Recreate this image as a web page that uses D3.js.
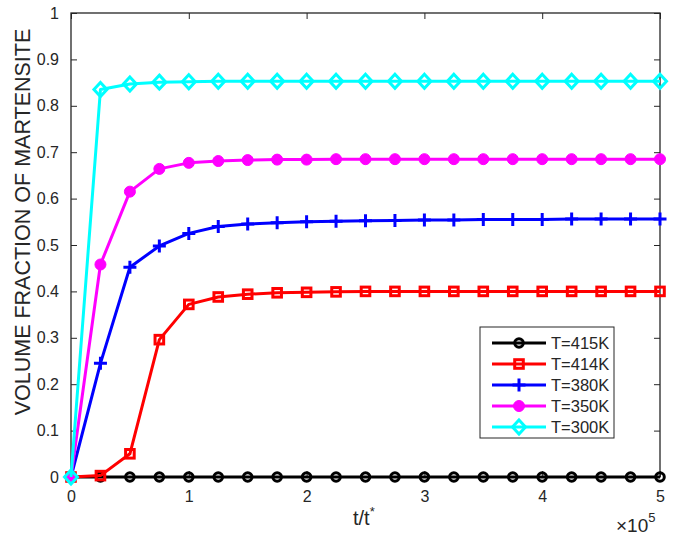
<!DOCTYPE html>
<html>
<head>
<meta charset="utf-8">
<script src="https://cdn.jsdelivr.net/npm/d3@7"></script>
<style>
  body { margin: 0; background: #fff; }
  text { font-family: "Liberation Sans", Arial, sans-serif; fill: #262626; }
</style>
</head>
<body>
<div id="chart"></div>
<script>
// time samples (in units of 1e5 t*)
var times = [0, 0.25, 0.5, 0.75, 1, 1.25, 1.5, 1.75, 2, 2.25, 2.5, 2.75, 3, 3.25, 3.5, 3.75, 4, 4.25, 4.5, 4.75, 5];

var t415 = [0, 0, 0, 0, 0, 0, 0, 0, 0, 0, 0, 0, 0, 0, 0, 0, 0, 0, 0, 0, 0];
var t414 = [0, 0.003, 0.05, 0.296, 0.372, 0.388, 0.394, 0.397, 0.398, 0.399, 0.4, 0.4, 0.4, 0.4, 0.4, 0.4, 0.4, 0.4, 0.4, 0.4, 0.4];
var t380 = [0, 0.245, 0.452, 0.498, 0.525, 0.54, 0.545, 0.548, 0.55, 0.551, 0.552, 0.553, 0.554, 0.554, 0.555, 0.555, 0.555, 0.556, 0.556, 0.556, 0.556];
var t350 = [0, 0.458, 0.615, 0.664, 0.677, 0.681, 0.683, 0.684, 0.684, 0.685, 0.685, 0.685, 0.685, 0.685, 0.685, 0.685, 0.685, 0.685, 0.685, 0.685, 0.685];
var t300 = [0, 0.835, 0.847, 0.851, 0.852, 0.853, 0.853, 0.853, 0.853, 0.853, 0.853, 0.853, 0.853, 0.853, 0.853, 0.853, 0.853, 0.853, 0.853, 0.853, 0.853];

var seriesNames = ["T=415K", "T=414K", "T=380K", "T=350K", "T=300K"];
var seriesColors = ["#000000", "#ff0000", "#0000ff", "#ff00ff", "#00ffff"];
var seriesMarkers = ["circle", "square", "plus", "dot", "diamond"];
var seriesValues = [t415, t414, t380, t350, t300];

var xTicks = [0, 1, 2, 3, 4, 5];
var yTicks = [0, 0.1, 0.2, 0.3, 0.4, 0.5, 0.6, 0.7, 0.8, 0.9, 1];

var W = 674, H = 537;
var margin = { top: 13, right: 14, bottom: 60, left: 71 },
  width = W - margin.left - margin.right,
  height = H - margin.top - margin.bottom;

var x = d3.scaleLinear().domain([0, 5]).range([0, width]);
var y = d3.scaleLinear().domain([0, 1]).range([height, 0]);

var svg = d3.select("#chart").append("svg")
  .attr("width", W)
  .attr("height", H)
  .append("g")
  .attr("transform", "translate(" + margin.left + "," + margin.top + ")");

var axisColor = "#262626";

// axes (ticks inside, box on)
function styleAxis(g) {
  g.select(".domain").remove();
  g.selectAll("line").attr("stroke", axisColor).attr("stroke-width", 1);
  g.selectAll("text").style("font-size", "16px").attr("fill", axisColor);
}

svg.append("g")
  .attr("transform", "translate(0," + height + ")")
  .call(d3.axisBottom(x).tickValues(xTicks).tickSize(-6).tickPadding(14).tickFormat(d3.format("d")))
  .call(styleAxis);

svg.append("g")
  .call(d3.axisTop(x).tickValues(xTicks).tickSize(-6).tickFormat(""))
  .call(styleAxis);

svg.append("g")
  .call(d3.axisLeft(y).tickValues(yTicks).tickSize(-6).tickPadding(12).tickFormat(function (d) { return d === 0 ? "0" : d === 1 ? "1" : d3.format(".1f")(d); }))
  .call(styleAxis);

svg.append("g")
  .attr("transform", "translate(" + width + ",0)")
  .call(d3.axisRight(y).tickValues(yTicks).tickSize(-6).tickFormat(""))
  .call(styleAxis);

svg.append("rect")
  .attr("width", width)
  .attr("height", height)
  .attr("fill", "none")
  .attr("stroke", axisColor)
  .attr("stroke-width", 1.3);

// markers
function drawMarker(g, type, color) {
  if (type === "circle") {
    g.append("circle").attr("r", 4.3).attr("fill", "none").attr("stroke", color).attr("stroke-width", 3);
  } else if (type === "square") {
    g.append("rect").attr("x", -4.3).attr("y", -4.3).attr("width", 8.6).attr("height", 8.6)
      .attr("fill", "none").attr("stroke", color).attr("stroke-width", 3);
  } else if (type === "plus") {
    g.append("path").attr("d", "M-6.5,0H6.5M0,-6.5V6.5").attr("stroke", color).attr("stroke-width", 3);
  } else if (type === "dot") {
    g.append("circle").attr("r", 5.5).attr("fill", color).attr("stroke", color).attr("stroke-width", 1);
  } else if (type === "diamond") {
    g.append("path").attr("d", "M0,-7L6.5,0L0,7L-6.5,0Z").attr("fill", "none").attr("stroke", color).attr("stroke-width", 3);
  }
}

var line = d3.line()
  .x(function (d) { return x(d[0]); })
  .y(function (d) { return y(d[1]); });

seriesValues.forEach(function (vals, i) {
  var pts = times.map(function (t, j) { return [t, vals[j]]; });
  svg.append("path")
    .datum(pts)
    .attr("d", line)
    .attr("fill", "none")
    .attr("stroke", seriesColors[i])
    .attr("stroke-width", 3)
    .attr("stroke-linejoin", "round");
  svg.selectAll(".m" + i)
    .data(pts)
    .enter().append("g")
    .attr("class", "m" + i)
    .attr("transform", function (d) { return "translate(" + x(d[0]) + "," + y(d[1]) + ")"; })
    .each(function () { drawMarker(d3.select(this), seriesMarkers[i], seriesColors[i]); });
});

// legend
var legend = svg.append("g")
  .attr("transform", "translate(" + (480 - margin.left) + "," + (327 - margin.top) + ")");

legend.append("rect")
  .attr("width", 134)
  .attr("height", 111)
  .attr("fill", "#fff")
  .attr("stroke", axisColor)
  .attr("stroke-width", 1);

seriesNames.forEach(function (name, i) {
  var row = legend.append("g").attr("transform", "translate(0," + (16 + i * 21) + ")");
  row.append("line")
    .attr("x1", 12).attr("x2", 66)
    .attr("stroke", seriesColors[i])
    .attr("stroke-width", 3);
  drawMarker(row.append("g").attr("transform", "translate(39,0)"), seriesMarkers[i], seriesColors[i]);
  row.append("text")
    .attr("x", 71)
    .attr("dy", "0.36em")
    .style("font-size", "16.5px")
    .text(name);
});

// axis labels
svg.append("text")
  .attr("transform", "rotate(-90)")
  .attr("x", 13 - 222)
  .attr("y", -margin.left + 30)
  .style("text-anchor", "middle")
  .style("font-size", "21.5px")
  .text("VOLUME FRACTION OF MARTENSITE");

var xl = svg.append("text")
  .attr("x", 353 - margin.left)
  .attr("y", 525 - margin.top)
  .style("font-size", "20px");
xl.append("tspan").text("t/t");
xl.append("tspan").attr("dy", "-9").style("font-size", "13px").text("*");

var ex = svg.append("text")
  .attr("x", 616 - margin.left)
  .attr("y", 532 - margin.top)
  .style("font-size", "19px");
ex.append("tspan").text("\u00d710");
ex.append("tspan").attr("dy", "-10").style("font-size", "13px").text("5");
</script>
</body>
</html>
